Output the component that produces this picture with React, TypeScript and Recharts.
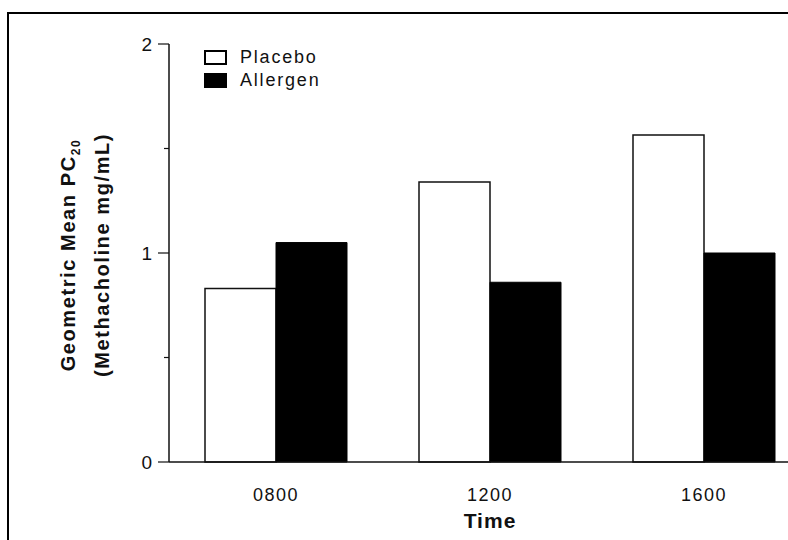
import { BarChart, Bar, XAxis, YAxis } from 'recharts';

const times = ['0800', '1200', '1600'];
const placebo = [0.83, 1.34, 1.565];
const allergen = [1.05, 0.86, 1.0];
const yTicks = [0, 0.5, 1, 1.5, 2];
const legendItems = [
  { name: 'Placebo', fill: '#fff' },
  { name: 'Allergen', fill: '#000' },
];

const data = times.map((t, i) => ({ time: t, placebo: placebo[i], allergen: allergen[i] }));

const FONT = '"Liberation Sans", Arial, Helvetica, sans-serif';

// major ticks (integers) are longer and labelled, halves are short and bare
const YTick = ({ x, y, payload }: any) => {
  const major = Number.isInteger(payload.value);
  return (
    <g>
      <line x1={x - (major ? 11 : 5)} x2={x} y1={y} y2={y} stroke="#111" strokeWidth={1.2} />
      {major && (
        <text x={x - 17} y={y} dy={7} textAnchor="end" fill="#111" fontSize={19} fontFamily={FONT}>
          {payload.value}
        </text>
      )}
    </g>
  );
};

const YLabel = ({ viewBox }: any) => {
  const cy = viewBox.y + viewBox.height / 2 + 2;
  return (
    <g fontFamily={FONT} fontWeight="bold" fill="#111" fontSize={20} letterSpacing={1.6}>
      <text x={75} y={cy} transform={`rotate(-90, 75, ${cy})`} textAnchor="middle">
        Geometric Mean PC<tspan fontSize={12} dy={5}>20</tspan>
      </text>
      <text x={109} y={cy} transform={`rotate(-90, 109, ${cy})`} textAnchor="middle">
        (Methacholine mg/mL)
      </text>
    </g>
  );
};

export default function App() {
  return (
    <div style={{ position: 'absolute', left: 0, top: 0, width: 788, height: 540, overflow: 'hidden', background: '#fff' }}>
      <div style={{ position: 'absolute', left: 7, top: 12, width: 900, height: 600, border: '2px solid #000', boxSizing: 'border-box' }} />
      <div style={{ position: 'absolute', left: 0, top: 0 }}>
        <BarChart
          width={821}
          height={540}
          data={data}
          margin={{ top: 44, right: 10, left: 0, bottom: 0 }}
          barCategoryGap={36}
          barGap={0}
        >
          <XAxis
            dataKey="time"
            height={78}
            axisLine={{ stroke: '#111', strokeWidth: 1.5 }}
            tickLine={false}
            tick={{ fill: '#111', fontSize: 18, fontFamily: FONT, letterSpacing: 1.5 }}
            tickMargin={20}
            label={{ value: 'Time', position: 'insideBottom', offset: 12, style: { fill: '#111', fontSize: 21, fontWeight: 'bold', fontFamily: FONT, letterSpacing: 1 } }}
          />
          <YAxis
            width={169}
            domain={[0, 2]}
            ticks={yTicks}
            interval={0}
            axisLine={{ stroke: '#111', strokeWidth: 1.5 }}
            tickLine={false}
            tickSize={0}
            tickMargin={0}
            tick={<YTick />}
            label={<YLabel />}
          />
          <Bar dataKey="placebo" fill="#fff" stroke="#111" strokeWidth={1.5} isAnimationActive={false} />
          <Bar dataKey="allergen" fill="#000" stroke="#000" strokeWidth={1} isAnimationActive={false} />
        </BarChart>
      </div>
      <div style={{ position: 'absolute', left: 204, top: 46, fontFamily: FONT, fontSize: 18, letterSpacing: 1.8, color: '#111', lineHeight: '23px' }}>
        {legendItems.map((d) => (
          <div key={d.name} style={{ display: 'flex', alignItems: 'center' }}>
            <span style={{ width: 23, height: 15, border: '2px solid #000', background: d.fill, boxSizing: 'border-box', marginRight: 13 }} />
            {d.name}
          </div>
        ))}
      </div>
    </div>
  );
}
